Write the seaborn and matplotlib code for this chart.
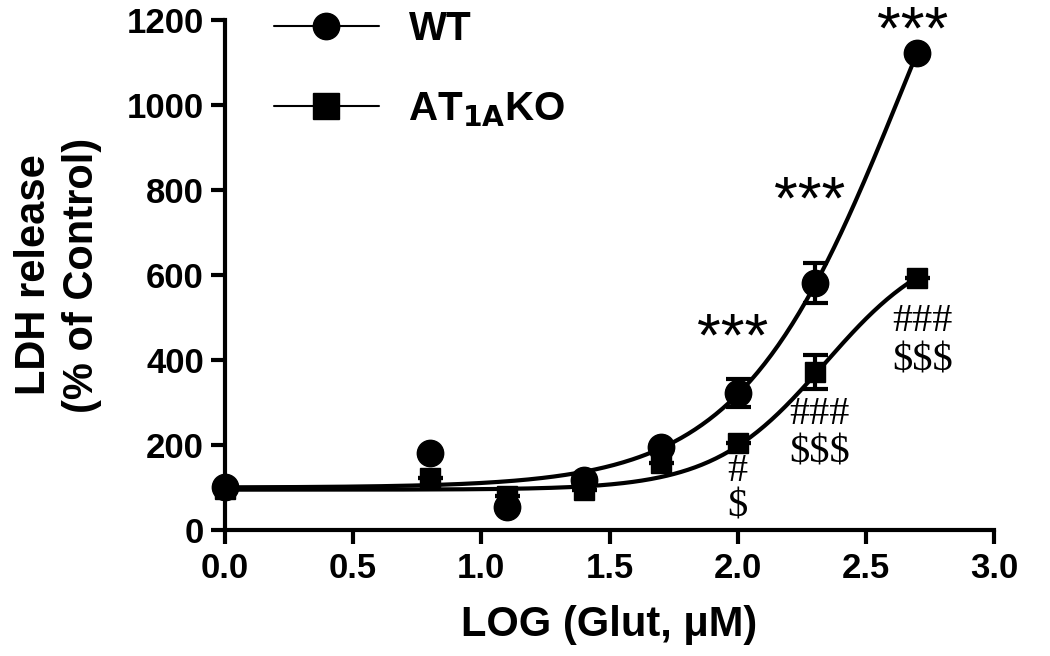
import numpy as np
import pandas as pd
import matplotlib
matplotlib.use("Agg")
import matplotlib.pyplot as plt
import seaborn as sns

# measured points (LOG glutamate, LDH % of control)
log_glut = [0.0, 0.8, 1.1, 1.4, 1.7, 2.0, 2.3, 2.7]
wt_mean = [101, 181, 54, 118, 195, 322, 581, 1122]
wt_sem = [0, 0, 0, 0, 0, 33, 47, 0]
ko_mean = [97, 122, 80, 94, 158, 205, 372, 593]
ko_sem = [0, 0, 0, 0, 0, 0, 39, 0]

# sigmoid fit parameters (bottom, top, logEC50, hill slope)
wt_fit = [100, 2000, 2.65, 1.36]
ko_fit = [95, 690, 2.34, 2.0]

sns.set_style("ticks", {'text.color': 'black', 'axes.labelcolor': 'black',
                        'axes.edgecolor': 'black', 'xtick.color': 'black',
                        'ytick.color': 'black'})
plt.rcParams['font.family'] = ['Liberation Sans', 'DejaVu Sans']
plt.rcParams['font.weight'] = 'bold'

fig, ax = plt.subplots(figsize=(10.5, 6.56), dpi=100)
fig.subplots_adjust(left=0.214, right=0.947, bottom=0.192, top=0.9695)


def hill(x, p):
    b, t, ec, h = p
    return b + (t - b) / (1 + 10 ** ((ec - x) * h))


xx = np.linspace(0, 2.7, 300)
curves = pd.DataFrame({'x': np.concatenate([xx, xx]),
                       'y': np.concatenate([hill(xx, wt_fit), hill(xx, ko_fit)]),
                       'grp': ['WT'] * len(xx) + ['KO'] * len(xx)})
sns.lineplot(data=curves, x='x', y='y', units='grp', estimator=None,
             color='black', lw=3, ax=ax, legend=False)

ax.errorbar(log_glut, wt_mean, yerr=wt_sem, fmt='o', color='black', ms=19,
            capsize=9, capthick=3, elinewidth=3, clip_on=False, zorder=5)
ax.errorbar(log_glut, ko_mean, yerr=ko_sem, fmt='s', color='black', ms=15,
            capsize=9, capthick=3, elinewidth=3, clip_on=False, zorder=5)

# legend handles
h1, = ax.plot([], [], 'o-', color='black', ms=19, lw=1.5)
h2, = ax.plot([], [], 's-', color='black', ms=19, lw=1.5)
ax.legend([h1, h2], ['WT', r'AT$_{\mathbf{1A}}$KO'], loc='upper left',
          bbox_to_anchor=(0.064, 1.02), frameon=False, fontsize=29,
          handlelength=2.6, handletextpad=0.74, labelspacing=1.05,
          borderpad=0, borderaxespad=0)

# significance marks
stars = [(1.98, 448), (2.28, 770), (2.68, 1170)]
for sx, sy in stars:
    ax.text(sx, sy, '***', ha='center', va='center', fontsize=44,
            fontweight='normal', clip_on=False)
marks = [(2.0, 138, '#'), (2.0, 54, '$'), (2.32, 273, '###'), (2.32, 182, '$$$'),
         (2.72, 490, '###'), (2.72, 398, '$$$')]
for mx, my, s in marks:
    ax.text(mx, my, s, ha='center', va='center', fontsize=29,
            family='Liberation Serif', fontweight='normal')

ax.set_xlim(0, 3.0)
ax.set_ylim(0, 1200)
ax.set_xticks(np.arange(0, 3.01, 0.5))
ax.set_yticks(np.arange(0, 1201, 200))
ax.tick_params(width=3, length=10, color='black', labelcolor='black')
ax.tick_params(axis='x', labelsize=25, pad=6)
ax.tick_params(axis='y', labelsize=25, pad=5)
for lab in ax.get_xticklabels() + ax.get_yticklabels():
    lab.set_fontweight('bold')
for sp in ['left', 'bottom']:
    ax.spines[sp].set_linewidth(3)
    ax.spines[sp].set_color('black')
sns.despine(ax=ax)

ax.set_xlabel('LOG (Glut, μM)', fontsize=30, fontweight='bold', labelpad=14)
ax.set_ylabel('LDH release\n(% of Control)', fontsize=30, fontweight='bold',
              labelpad=18, linespacing=1.25)

fig.savefig('out.png', dpi=100)
